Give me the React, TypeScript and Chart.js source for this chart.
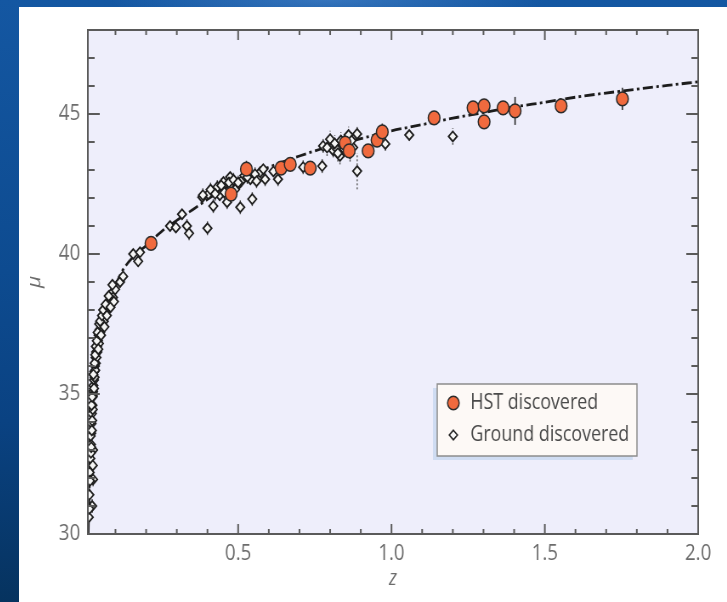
import React, { useEffect, useRef } from "react";
import { Chart, registerables } from "chart.js";

Chart.register(...registerables);

// ---------- data ----------
const fitZ = [0.0115, 0.014, 0.017, 0.021, 0.025, 0.03, 0.036, 0.047, 0.06, 0.073, 0.09, 0.12, 0.158, 0.2, 0.25, 0.3, 0.354, 0.4, 0.45, 0.5, 0.6, 0.7, 0.8, 0.9, 1.0, 1.1, 1.2, 1.3, 1.4, 1.5, 1.6, 1.75, 1.9, 2.0];
const fitMu = [30.0, 31.5, 32.8, 34.0, 34.8, 35.6, 36.2, 37.0, 37.6, 38.1, 38.6, 39.35, 39.9, 40.3, 40.8, 41.2, 41.6, 41.95, 42.3, 42.6, 43.1, 43.5, 43.85, 44.12, 44.4, 44.62, 44.85, 45.05, 45.25, 45.42, 45.6, 45.82, 46.02, 46.15];

const hstZ = [0.216, 0.477, 0.527, 0.64, 0.67, 0.735, 0.849, 0.862, 0.924, 0.953, 0.97, 1.139, 1.266, 1.302, 1.302, 1.364, 1.403, 1.553, 1.753];
const hstMu = [40.38, 42.14, 43.03, 43.07, 43.2, 43.07, 43.96, 43.68, 43.68, 44.07, 44.36, 44.86, 45.22, 45.29, 44.72, 45.22, 45.11, 45.29, 45.54];
const hstErr = [0.2, 0.25, 0.3, 0.2, 0.2, 0.2, 0.25, 0.25, 0.2, 0.25, 0.3, 0.2, 0.2, 0.2, 0.25, 0.2, 0.5, 0.2, 0.4];

const groundZ = [
  0.013, 0.015, 0.016, 0.018, 0.02, 0.021, 0.022, 0.023, 0.024, 0.025, 0.026, 0.026, 0.027, 0.028, 0.029, 0.03, 0.031, 0.032, 0.033, 0.034,
  0.035, 0.036, 0.037, 0.038, 0.04, 0.041, 0.043, 0.045, 0.046, 0.048, 0.05, 0.052, 0.055, 0.058, 0.062, 0.066, 0.07, 0.075, 0.08, 0.088,
  0.092, 0.027, 0.026, 0.027, 0.024, 0.099, 0.115, 0.125, 0.158, 0.174, 0.18,
  0.019, 0.022, 0.024, 0.028, 0.03, 0.032, 0.034, 0.036, 0.039, 0.042, 0.044, 0.047, 0.05, 0.053, 0.056, 0.06, 0.064, 0.068, 0.072, 0.078,
  0.084, 0.09, 0.095, 0.02, 0.017, 0.015, 0.021, 0.023,
  0.278, 0.297, 0.317, 0.333, 0.34, 0.383, 0.4, 0.403, 0.419, 0.432, 0.44, 0.452, 0.464, 0.474, 0.48, 0.496, 0.507, 0.51, 0.52, 0.546,
  0.54, 0.572, 0.582, 0.588, 0.63, 0.615, 0.712, 0.774, 0.777, 0.8, 0.81, 0.822, 0.832, 0.84, 0.85, 0.86, 0.875, 0.888, 0.888, 0.98,
  1.058, 1.2,
  0.385, 0.41, 0.425, 0.445, 0.455, 0.47, 0.485, 0.49, 0.5, 0.53, 0.555, 0.56,
  0.79, 0.815, 0.825, 0.835, 0.845, 0.855, 0.865, 0.87,
];
const groundMu = [
  30.6, 31.4, 32.2, 32.7, 33.2, 33.6, 33.95, 34.3, 34.05, 34.6, 34.9, 34.45, 35.1, 35.3, 35.0, 35.5, 35.8, 35.6, 36.0, 35.85,
  36.3, 36.1, 36.5, 36.3, 36.7, 36.5, 36.9, 37.1, 36.8, 37.3, 37.2, 37.5, 37.4, 37.7, 37.6, 37.9, 38.0, 38.2, 38.3, 38.6,
  38.45, 33.0, 32.45, 31.95, 31.0, 38.74, 39.0, 39.2, 40.0, 39.74, 40.06,
  33.5, 34.6, 34.9, 35.7, 35.2, 36.1, 36.4, 36.7, 36.9, 37.2, 36.6, 37.5, 37.6, 37.1, 37.8, 38.0, 37.4, 38.2, 37.8, 38.5,
  38.1, 38.9, 38.3, 32.9, 31.9, 30.9, 33.1, 33.7,
  41.0, 40.95, 41.42, 41.0, 40.74, 42.03, 40.92, 42.14, 41.71, 42.39, 42.1, 42.57, 41.85, 42.75, 42.4, 42.42, 41.67, 42.6, 42.8, 41.96,
  42.67, 42.92, 43.03, 42.67, 42.67, 42.95, 43.1, 43.14, 43.86, 44.1, 43.7, 43.75, 43.5, 43.9, 44.0, 44.25, 43.8, 44.29, 42.96, 43.93,
  44.25, 44.2,
  42.1, 42.3, 42.15, 42.45, 42.2, 42.55, 42.65, 42.3, 42.55, 42.75, 42.85, 42.6,
  43.8, 43.95, 43.6, 44.05, 43.75, 43.85, 43.6, 44.05,
];
const groundErr = [
  0.25, 0.25, 0.2, 0.2, 0.2, 0.2, 0.2, 0.2, 0.2, 0.2, 0.2, 0.2, 0.2, 0.2, 0.2, 0.2, 0.2, 0.2, 0.2, 0.2,
  0.2, 0.2, 0.2, 0.2, 0.2, 0.2, 0.2, 0.2, 0.2, 0.2, 0.2, 0.2, 0.2, 0.2, 0.2, 0.2, 0.2, 0.2, 0.2, 0.2,
  0.2, 0.25, 0.25, 0.25, 0.25, 0.2, 0.2, 0.2, 0.2, 0.2, 0.2,
  0.2, 0.2, 0.2, 0.2, 0.2, 0.2, 0.2, 0.2, 0.2, 0.2, 0.2, 0.2, 0.2, 0.2, 0.2, 0.2, 0.2, 0.2, 0.2, 0.2,
  0.2, 0.2, 0.2, 0.25, 0.25, 0.25, 0.2, 0.2,
  0.2, 0.2, 0.2, 0.25, 0.25, 0.2, 0.25, 0.2, 0.25, 0.25, 0.2, 0.2, 0.25, 0.2, 0.2, 0.2, 0.25, 0.2, 0.2, 0.25,
  0.2, 0.2, 0.2, 0.25, 0.25, 0.2, 0.25, 0.25, 0.25, 0.3, 0.25, 0.3, 0.3, 0.3, 0.3, 0.3, 0.3, 0.25, 0.65, 0.25,
  0.2, 0.3,
  0.25, 0.25, 0.25, 0.25, 0.25, 0.25, 0.25, 0.25, 0.25, 0.25, 0.25, 0.25,
  0.3, 0.3, 0.3, 0.3, 0.3, 0.3, 0.3, 0.3,
];

const xTickValues = [0.5, 1.0, 1.5, 2.0];
const xMinorTicks = [0.1, 0.2, 0.3, 0.4, 0.6, 0.7, 0.8, 0.9, 1.1, 1.2, 1.3, 1.4, 1.6, 1.7, 1.8, 1.9];
const yTickValues = [30, 35, 40, 45];
const yMinorTicks = [31, 32, 33, 34, 36, 37, 38, 39, 41, 42, 43, 44, 46, 47];

const seriesLabels = ["HST discovered", "Ground discovered"];

// ---------- styling ----------
const SX = 0.85;
const CW = 833;
const CH = 595;
const PLOT_BG = "#eeeefb";
const FRAME = "#5a5a5a";
const TICK_TEXT = "#6c6c6c";
const HST_FILL = "#f06a3e";
const FONT = "'Open Sans', 'DejaVu Sans', sans-serif";

const decorPlugin = {
  id: "decor",
  beforeDraw(chart: any) {
    const { ctx, chartArea: a } = chart;
    ctx.save();
    ctx.fillStyle = PLOT_BG;
    ctx.fillRect(a.left, a.top, a.right - a.left, a.bottom - a.top);
    ctx.restore();
  },
  beforeDatasetsDraw(chart: any) {
    const { ctx, chartArea: a } = chart;
    const xs = chart.scales.x;
    const ys = chart.scales.y;
    ctx.save();
    ctx.beginPath();
    ctx.rect(a.left, a.top, a.right - a.left, a.bottom - a.top);
    ctx.clip();
    // ground error bars (dashed grey)
    ctx.strokeStyle = "#555555";
    ctx.lineWidth = 1.4;
    ctx.setLineDash([2, 2]);
    groundZ.forEach((z, i) => {
      const x = xs.getPixelForValue(z);
      ctx.beginPath();
      ctx.moveTo(x, ys.getPixelForValue(groundMu[i] - groundErr[i]));
      ctx.lineTo(x, ys.getPixelForValue(groundMu[i] + groundErr[i]));
      ctx.stroke();
    });
    // HST error bars (solid dark)
    ctx.setLineDash([]);
    ctx.strokeStyle = "#2c2c2c";
    ctx.lineWidth = 1.6;
    hstZ.forEach((z, i) => {
      const x = xs.getPixelForValue(z);
      ctx.beginPath();
      ctx.moveTo(x, ys.getPixelForValue(hstMu[i] - hstErr[i]));
      ctx.lineTo(x, ys.getPixelForValue(hstMu[i] + hstErr[i]));
      ctx.stroke();
    });
    ctx.restore();
  },
  afterDatasetsDraw(chart: any) {
    const { ctx, chartArea: a } = chart;
    const xs = chart.scales.x;
    const ys = chart.scales.y;
    ctx.save();
    ctx.strokeStyle = FRAME;
    ctx.lineWidth = 2;
    ctx.setLineDash([]);
    ctx.strokeRect(a.left, a.top, a.right - a.left, a.bottom - a.top);
    const tick = (x1: number, y1: number, x2: number, y2: number) => {
      ctx.beginPath();
      ctx.moveTo(x1, y1);
      ctx.lineTo(x2, y2);
      ctx.stroke();
    };
    // x ticks (bottom & top, inward)
    xTickValues.forEach((v) => {
      const x = xs.getPixelForValue(v);
      tick(x, a.bottom, x, a.bottom - 10);
      tick(x, a.top, x, a.top + 10);
    });
    xMinorTicks.forEach((v) => {
      const x = xs.getPixelForValue(v);
      tick(x, a.bottom, x, a.bottom - 5);
      tick(x, a.top, x, a.top + 5);
    });
    // y ticks (left & right, inward)
    yTickValues.forEach((v) => {
      const y = ys.getPixelForValue(v);
      tick(a.left, y, a.left + 14, y);
      tick(a.right, y, a.right - 14, y);
    });
    yMinorTicks.forEach((v) => {
      const y = ys.getPixelForValue(v);
      tick(a.left, y, a.left + 8, y);
      tick(a.right, y, a.right - 8, y);
    });

    // legend box
    const lw = 235;
    const lh = 72;
    const lx = a.right - 72 - lw;
    const ly = a.bottom - 78 - lh;
    ctx.fillStyle = "#cfdcf2";
    ctx.fillRect(lx - 5, ly + 4, lw, lh);
    ctx.fillStyle = "#fdf9f6";
    ctx.fillRect(lx, ly, lw, lh);
    ctx.strokeStyle = "#8c8c8c";
    ctx.lineWidth = 1.5;
    ctx.strokeRect(lx, ly, lw, lh);

    // HST marker
    ctx.beginPath();
    ctx.arc(lx + 19, ly + 19, 6.8, 0, Math.PI * 2);
    ctx.fillStyle = HST_FILL;
    ctx.fill();
    ctx.strokeStyle = "#2a2a2a";
    ctx.lineWidth = 1.5;
    ctx.stroke();
    // Ground marker
    const dx = lx + 19;
    const dy = ly + 51;
    const r = 4.8;
    ctx.beginPath();
    ctx.moveTo(dx, dy - r);
    ctx.lineTo(dx + r, dy);
    ctx.lineTo(dx, dy + r);
    ctx.lineTo(dx - r, dy);
    ctx.closePath();
    ctx.fillStyle = "#f7f7f7";
    ctx.fill();
    ctx.strokeStyle = "#222";
    ctx.lineWidth = 1.6;
    ctx.stroke();

    ctx.fillStyle = "#4a4a4a";
    ctx.font = `21px ${FONT}`;
    ctx.textBaseline = "middle";
    ctx.textAlign = "left";
    ctx.fillText(seriesLabels[0], lx + 39, ly + 19);
    ctx.fillText(seriesLabels[1], lx + 39, ly + 51);
    ctx.restore();
  },
};

export default function App() {
  const ref = useRef<HTMLCanvasElement>(null);

  useEffect(() => {
    if (!ref.current) return;
    const chart = new Chart(ref.current, {
      type: "scatter",
      data: {
        datasets: [
          {
            type: "scatter",
            label: seriesLabels[0],
            data: hstZ.map((z, i) => ({ x: z, y: hstMu[i] })),
            pointStyle: "circle",
            pointRadius: 6.9,
            pointHoverRadius: 6.9,
            backgroundColor: HST_FILL,
            borderColor: "#2a2a2a",
            borderWidth: 1.5,
            order: 1,
          },
          {
            type: "scatter",
            label: seriesLabels[1],
            data: groundZ.map((z, i) => ({ x: z, y: groundMu[i] })),
            pointStyle: "rectRot",
            pointRadius: 5.0,
            pointHoverRadius: 5.0,
            backgroundColor: "#f5f5f5",
            borderColor: "#1e1e1e",
            borderWidth: 1.8,
            order: 2,
          },
          {
            type: "line",
            label: "fit",
            data: fitZ.map((z, i) => ({ x: z, y: fitMu[i] })),
            borderColor: "#1c1c1c",
            borderWidth: 2.8,
            borderDash: [12, 4, 3, 4],
            pointRadius: 0,
            fill: false,
            cubicInterpolationMode: "monotone",
            showLine: true,
            order: 3,
          } as any,
        ],
      },
      options: {
        animation: false,
        responsive: false,
        devicePixelRatio: 1,
        layout: { padding: { top: 23, right: 34, left: 0, bottom: 0 } },
        plugins: { legend: { display: false }, tooltip: { enabled: false } },
        scales: {
          x: {
            type: "linear",
            min: 0.01,
            max: 2.0,
            grid: { display: false, drawTicks: false },
            border: { display: false },
            afterBuildTicks: (axis: any) => {
              axis.ticks = xTickValues.map((v) => ({ value: v }));
            },
            afterFit: (axis: any) => {
              axis.height = 68;
            },
            ticks: {
              callback: (v: any) => Number(v).toFixed(1),
              font: { family: FONT, size: 22 },
              color: TICK_TEXT,
              padding: 7,
              maxRotation: 0,
              autoSkip: false,
            },
            title: {
              display: true,
              text: "z",
              color: TICK_TEXT,
              font: { family: FONT, size: 21, style: "italic" },
              padding: { top: 0, bottom: 10 },
            },
          },
          y: {
            type: "linear",
            min: 30,
            max: 48,
            grid: { display: false, drawTicks: false },
            border: { display: false },
            afterBuildTicks: (axis: any) => {
              axis.ticks = yTickValues.map((v) => ({ value: v }));
            },
            afterFit: (axis: any) => {
              axis.width = 81;
            },
            ticks: {
              font: { family: FONT, size: 22 },
              color: TICK_TEXT,
              padding: 9,
              autoSkip: false,
            },
            title: {
              display: true,
              text: "μ",
              color: TICK_TEXT,
              font: { family: FONT, size: 21, style: "italic" },
              padding: { top: 6, bottom: 0 },
            },
          },
        },
      },
      plugins: [decorPlugin],
    });
    return () => chart.destroy();
  }, []);

  return (
    <div
      style={{
        position: "fixed",
        left: 0,
        top: 0,
        width: 727,
        height: 602,
        overflow: "hidden",
        background:
          "radial-gradient(ellipse 30% 4% at 45% 0%, rgba(80,140,210,0.55), rgba(80,140,210,0) 100%), linear-gradient(180deg, #1457a2 0%, #0d4b90 45%, #0a4282 70%, #06335f 100%)",
      }}
    >
      <div
        style={{
          position: "absolute",
          left: 19,
          top: 7,
          width: 708,
          height: 595,
          background: "#ffffff",
        }}
      />
      <canvas
        ref={ref}
        width={CW}
        height={CH}
        style={{
          position: "absolute",
          left: 19,
          top: 7,
          width: CW,
          height: CH,
          transform: `scaleX(${SX})`,
          transformOrigin: "0 0",
        }}
      />
    </div>
  );
}
